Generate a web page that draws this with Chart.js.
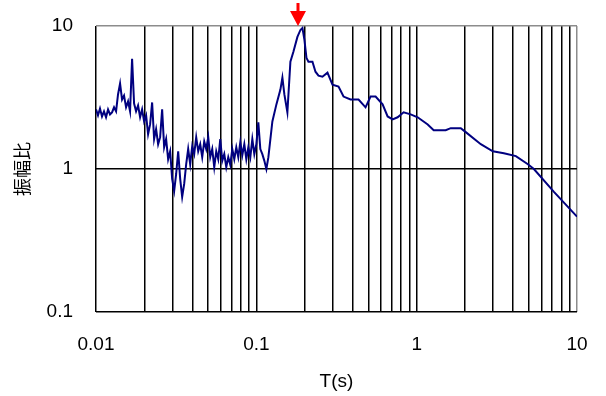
<!DOCTYPE html>
<html>
<head>
<meta charset="utf-8">
<script src="https://cdn.jsdelivr.net/npm/chart.js@4.4.1/dist/chart.umd.min.js"></script>
<style>
  html, body { margin: 0; padding: 0; background: #fff; }
  #wrap { width: 606px; height: 396px; }
</style>
</head>
<body>
<div id="wrap"><canvas id="spec"></canvas></div>
<script>
// period T (s)
var periods = [
  0.01000,0.01029,0.01059,0.01090,0.01122,0.01155,0.01189,0.01223,0.01259,0.01296,
  0.01334,0.01372,0.01413,0.01454,0.01496,0.01540,0.01585,0.01631,0.01679,0.01728,
  0.01778,0.01830,0.01884,0.01939,0.01995,0.02054,0.02113,0.02175,0.02239,0.02304,
  0.02371,0.02441,0.02512,0.02585,0.02661,0.02738,0.02818,0.02901,0.02985,0.03073,
  0.03162,0.03255,0.03350,0.03447,0.03548,0.03652,0.03758,0.03868,0.03981,0.04097,
  0.04217,0.04340,0.04467,0.04597,0.04732,0.04870,0.05012,0.05158,0.05309,0.05464,
  0.05623,0.05788,0.05957,0.06131,0.06310,0.06494,0.06683,0.06879,0.07079,0.07286,
  0.07499,0.07718,0.07943,0.08175,0.08414,0.08660,0.08913,0.09173,0.09441,0.09716,
  0.1000,0.1029,0.1059,0.1090,0.1122,0.1155,
  0.1189,0.1259,0.1334,0.1413,0.1454,0.1496,0.1562,0.1631,0.1703,0.1804,
  0.1884,0.1939,0.1995,0.2054,0.2113,0.2239,0.2338,0.2441,0.2585,0.2778,
  0.2985,0.3255,0.3498,0.3868,0.4340,0.4799,0.5158,0.5544,0.6131,0.6589,
  0.7079,0.7606,0.8293,0.9173,1.0145,1.172,1.277,1.517,1.631,1.884,
  2.024,2.512,2.985,3.498,4.157,4.94,5.385,7.181,10.0
];
// 振幅比
var ampRatio = [
  2.61,2.37,2.65,2.33,2.53,2.30,2.61,2.41,2.49,2.70,
  2.53,3.32,3.96,3.06,3.26,2.70,2.97,2.53,5.90,2.87,
  2.53,2.78,2.30,2.61,2.15,2.37,1.75,2.05,2.92,1.62,
  1.90,1.49,1.67,2.61,1.42,1.62,1.17,1.33,0.852,0.703,
  0.923,1.33,0.852,0.639,0.787,1.08,1.38,1.08,1.44,1.27,
  1.67,1.33,1.49,1.21,1.56,1.38,1.67,1.21,1.38,1.03,
  1.33,1.17,1.62,1.14,1.27,1.03,1.21,1.07,1.38,1.17,
  1.42,1.21,1.54,1.25,1.49,1.17,1.42,1.21,1.62,1.27,
  1.49,2.12,1.38,1.27,1.14,1.00,
  1.21,2.15,2.83,3.59,4.35,3.32,2.49,5.62,6.60,8.39,
  9.38,9.69,8.00,5.99,5.62,5.62,4.79,4.50,4.42,4.72,
  3.89,3.77,3.21,3.06,3.06,2.70,3.21,3.21,2.83,2.33,
  2.22,2.30,2.49,2.41,2.30,2.05,1.87,1.87,1.93,1.93,
  1.81,1.49,1.33,1.29,1.23,1.08,1.00,0.692,0.464
];
var xTickLabels = ['0.01', '0.1', '1', '10'];
var xTickValues = [0.01, 0.1, 1, 10];
var yTickLabels = ['0.1', '1', '10'];
var yTickValues = [0.1, 1, 10];
var peakPeriod = 0.183;   // red arrow

// vertical grid: 1..9 in every decade
var xGrid = [];
[0.01, 0.1, 1].forEach(function (d) {
  for (var m = 1; m < 10; m++) xGrid.push(+(m * d).toPrecision(3));
});
xGrid.push(10);

var points = periods.map(function (t, i) { return { x: t, y: ampRatio[i] }; });

var arrowPlugin = {
  id: 'arrow',
  afterDraw: function (chart) {
    var ctx = chart.ctx;
    var x = Math.round(chart.scales.x.getPixelForValue(peakPeriod));
    var tip = chart.chartArea.top;
    ctx.save();
    ctx.fillStyle = '#ff0000';
    ctx.fillRect(x - 1.5, tip - 23, 3, 10);
    ctx.beginPath();
    ctx.moveTo(x - 8, tip - 15);
    ctx.lineTo(x + 8, tip - 15);
    ctx.lineTo(x, tip);
    ctx.closePath();
    ctx.fill();
    ctx.restore();
  }
};

new Chart(document.getElementById('spec'), {
  type: 'line',
  data: {
    datasets: [{
      data: points,
      borderColor: '#000080',
      borderWidth: 2,
      pointRadius: 0,
      tension: 0,
      fill: false
    }]
  },
  options: {
    responsive: true,
    maintainAspectRatio: false,
    animation: false,
    layout: { padding: { left: 0, right: 29, top: 26, bottom: 0 } },
    plugins: { legend: { display: false }, tooltip: { enabled: false } },
    scales: {
      x: {
        type: 'logarithmic',
        min: 0.01,
        max: 10,
        afterBuildTicks: function (s) { s.ticks = xGrid.map(function (v) { return { value: v }; }); },
        afterFit: function (s) { s.height = 84; s.paddingLeft = 0; s.paddingRight = 0; },
        border: { display: false },
        grid: {
          drawTicks: false,
          lineWidth: 1.5,
          color: function (c) { return c.tick && c.tick.value === 10 ? '#8c8c8c' : '#000000'; }
        },
        ticks: {
          autoSkip: false,
          maxRotation: 0,
          padding: 21,
          color: '#000',
          font: { family: 'Liberation Sans', size: 19 },
          callback: function (v) {
            var i = xTickValues.indexOf(v);
            return i >= 0 ? xTickLabels[i] : '';
          }
        },
        title: {
          display: true,
          text: 'T(s)',
          color: '#000',
          font: { family: 'Liberation Sans', size: 19 },
          padding: { top: 0, bottom: 3 }
        }
      },
      y: {
        type: 'logarithmic',
        min: 0.1,
        max: 10,
        afterBuildTicks: function (s) { s.ticks = yTickValues.map(function (v) { return { value: v }; }); },
        afterFit: function (s) { s.width = 96; s.paddingTop = 0; s.paddingBottom = 0; },
        border: { display: false },
        grid: {
          drawTicks: false,
          lineWidth: 1.5,
          color: function (c) { return c.tick && c.tick.value === 10 ? '#8c8c8c' : '#000000'; }
        },
        ticks: {
          padding: 23,
          color: '#000',
          font: { family: 'Liberation Sans', size: 19 },
          callback: function (v) {
            var i = yTickValues.indexOf(v);
            return i >= 0 ? yTickLabels[i] : '';
          }
        },
        title: {
          display: true,
          text: '振幅比',
          color: '#000',
          font: { family: 'Noto Sans CJK JP', size: 18 },
          padding: { top: 11, bottom: 0 }
        }
      }
    }
  },
  plugins: [arrowPlugin]
});
</script>
</body>
</html>
